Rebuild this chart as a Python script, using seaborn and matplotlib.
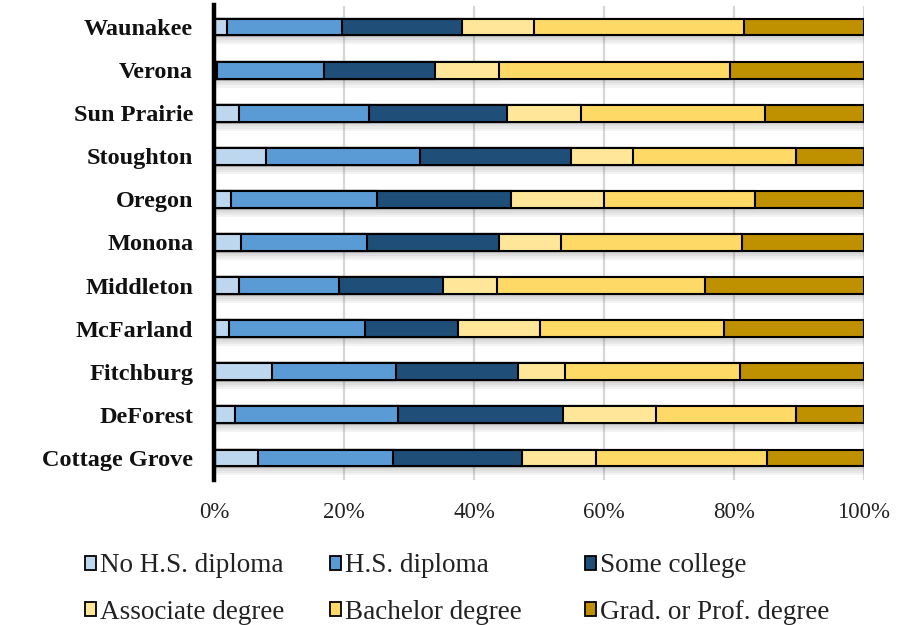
import numpy as np
import pandas as pd
import matplotlib
matplotlib.use("Agg")
import matplotlib.pyplot as plt
import matplotlib.patheffects as pe
from matplotlib.patches import Patch
import seaborn as sns

cities = ["Waunakee", "Verona", "Sun Prairie", "Stoughton", "Oregon", "Monona",
          "Middleton", "McFarland", "Fitchburg", "DeForest", "Cottage Grove"]

levels = ["No H.S. diploma", "H.S. diploma", "Some college",
          "Associate degree", "Bachelor degree", "Grad. or Prof. degree"]

# Share of adults (%) by highest educational attainment
no_hs      = [2.0, 0.5, 3.8, 8.0, 2.6, 4.2, 3.8, 2.3, 8.9, 3.2, 6.7]
hs_diploma = [17.7, 16.4, 20.1, 23.7, 22.5, 19.3, 15.5, 20.9, 19.1, 25.1, 20.9]
some_coll  = [18.5, 17.1, 21.2, 23.3, 20.6, 20.3, 16.0, 14.3, 18.7, 25.4, 19.8]
associate  = [11.1, 9.8, 11.4, 9.5, 14.3, 9.6, 8.2, 12.7, 7.3, 14.3, 11.4]
bachelor   = [32.2, 35.6, 28.3, 25.1, 23.2, 27.9, 32.1, 28.2, 26.9, 21.6, 26.3]
graduate   = [18.5, 20.6, 15.2, 10.4, 16.8, 18.7, 24.4, 21.6, 19.1, 10.4, 14.9]

colors = ["#BDD7EE", "#5B9BD5", "#1F4E79", "#FFE699", "#FFD966", "#BF9000"]

df = pd.DataFrame({"city": cities})
series = [no_hs, hs_diploma, some_coll, associate, bachelor, graduate]
for name, vals in zip(levels, series):
    df[name] = vals
cum = df[levels].cumsum(axis=1)
cum["city"] = df["city"]

sns.set_theme(style="white")
plt.rcParams["font.family"] = ["Liberation Serif", "DejaVu Serif"]

fig = plt.figure(figsize=(9.11, 6.25), dpi=100)
ax = fig.add_axes([0.2349, 0.2328, 0.7135, 0.7584])

# vertical grid behind bars
for v in [0, 20, 40, 60, 80, 100]:
    ax.axvline(v, color="#d6d6d6", lw=1.6, zorder=0)

# soft drop shadow built from a few faint offset copies
soft_shadow = [pe.SimplePatchShadow(offset=(1, -k), shadow_rgbFace="#606060",
                                    alpha=0.07) for k in (2, 3.5, 5, 6.5)]

# stacked bars: draw cumulative totals from the longest down
for i in range(len(levels) - 1, -1, -1):
    before = len(ax.patches)
    sns.barplot(data=cum, x=levels[i], y="city",
                color=colors[i], edgecolor="black", linewidth=1.5,
                width=0.39, saturation=1, orient="h", ax=ax, zorder=2)
    if i == len(levels) - 1:
        for p in ax.patches[before:]:
            p.set_path_effects(soft_shadow + [pe.Normal()])

ax.set_xlim(0, 100)
ax.set_ylim(10.5, -0.5)
ax.set_xlabel("")
ax.set_ylabel("")
ax.set_xticks([0, 20, 40, 60, 80, 100])
ax.set_xticklabels(["0%", "20%", "40%", "60%", "80%", "100%"], fontsize=16.5,
                   color="#222222")
ax.tick_params(axis="x", length=0, pad=16)
ax.tick_params(axis="y", length=0, pad=15)
for lab in ax.get_yticklabels():
    lab.set_fontweight("bold")
    lab.set_fontsize(17.5)
    lab.set_color("#111111")

for s in ["top", "right", "bottom"]:
    ax.spines[s].set_visible(False)
ax.spines["left"].set_color("black")
ax.spines["left"].set_linewidth(3.2)
ax.spines["left"].set_zorder(5)

# legend laid out as three columns of two entries
handles = [Patch(facecolor=c, edgecolor="black", linewidth=1.3) for c in colors]
col_x = [85 / 911, 330 / 911, 585 / 911]
for j, x0 in enumerate(col_x):
    idx = [j, j + 3]
    fig.legend([handles[k] for k in idx], [levels[k] for k in idx],
               loc="lower left", bbox_to_anchor=(x0, 0.0),
               frameon=False, fontsize=19.5, handlelength=0.42,
               handleheight=0.42, handletextpad=0.12, labelspacing=0.8,
               borderpad=0, borderaxespad=0, labelcolor="#222222")

fig.savefig("out.png", dpi=100)
